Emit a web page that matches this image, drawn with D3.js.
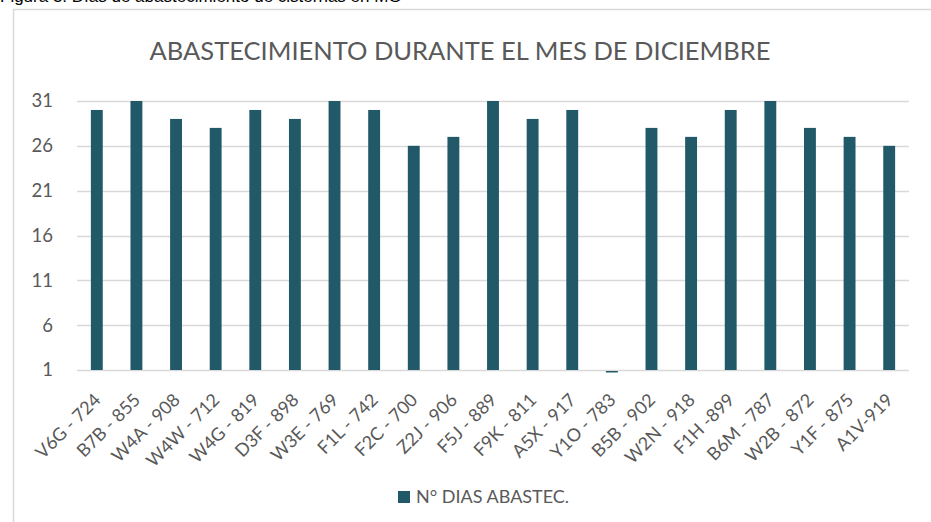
<!DOCTYPE html>
<html>
<head>
<meta charset="utf-8">
<script src="https://cdn.jsdelivr.net/npm/d3@7"></script>
<style>
  body { margin: 0; background: #fff; }
  text { font-family: Lato, "Open Sans", sans-serif; }
</style>
</head>
<body>
<div id="chart"></div>
<script>
// data
var categories = ["V6G - 724", "B7B - 855", "W4A - 908", "W4W - 712", "W4G - 819", "D3F - 898",
  "W3E - 769", "F1L - 742", "F2C - 700", "Z2J - 906", "F5J - 889", "F9K - 811", "A5X - 917",
  "Y1O - 783", "B5B - 902", "W2N - 918", "F1H -899", "B6M - 787", "W2B - 872", "Y1F - 875", "A1V-919"];
var dias = [30, 31, 29, 28, 30, 29, 31, 30, 26, 27, 31, 29, 30, 0, 28, 27, 30, 31, 28, 27, 26];
var yTicks = [1, 6, 11, 16, 21, 26, 31];
var seriesName = "N° DIAS ABASTEC.";
var chartTitle = "ABASTECIMIENTO DURANTE EL MES DE DICIEMBRE";

var width = 931, height = 522;
var margin = {top: 101, right: 22, bottom: 152, left: 77};
var barColor = "#215968";
var textColor = "#595959";

var svg = d3.select("#chart").append("svg")
    .attr("width", width)
    .attr("height", height);

// caption cut off at the top of the page
svg.append("text")
    .attr("x", 0).attr("y", 2)
    .style("font-family", "'Liberation Sans', Arial, sans-serif")
    .style("font-size", "17px")
    .attr("fill", "#000")
    .text("Figura 3: Días de abastecimiento de cisternas en MG");

// chart area frame
svg.append("rect")
    .attr("x", 13.5).attr("y", 9.5)
    .attr("width", width).attr("height", height)
    .attr("fill", "none")
    .attr("stroke", "#d9d9d9")
    .attr("stroke-width", 1.5);

var g = svg.append("g")
    .attr("transform", "translate(" + margin.left + "," + margin.top + ")");

var innerW = width - margin.left - margin.right,
    innerH = height - margin.top - margin.bottom;

var x = d3.scaleBand()
    .domain(categories)
    .range([0, innerW])
    .paddingInner(0.7)
    .paddingOuter(0.35);

var y = d3.scaleLinear()
    .domain([1, 31])
    .range([innerH, 0]);

// gridlines
g.selectAll(".grid")
    .data(yTicks)
    .enter().append("line")
    .attr("x1", 0).attr("x2", innerW)
    .attr("y1", d => Math.round(y(d)) + 0.5)
    .attr("y2", d => Math.round(y(d)) + 0.5)
    .attr("stroke", "#d9d9d9")
    .attr("stroke-width", 1.5);

// y axis labels
var yAxis = d3.axisLeft(y).tickValues(yTicks).tickSize(0).tickPadding(24);
g.append("g").call(yAxis)
    .call(s => s.select(".domain").remove())
    .selectAll("text")
    .attr("fill", textColor)
    .style("font-size", "18.5px");

// bars (a value below the axis minimum is drawn as a thin stub below the baseline)
g.selectAll(".bar")
    .data(dias)
    .enter().append("rect")
    .attr("x", (d, i) => x(categories[i]))
    .attr("width", x.bandwidth())
    .attr("y", d => d >= 1 ? y(d) : y(1) + 1)
    .attr("height", d => d >= 1 ? y(1) - y(d) : 1.5)
    .attr("fill", barColor);

// x axis labels
var xAxis = d3.axisBottom(x).tickSize(0).tickPadding(0);
g.append("g")
    .attr("transform", "translate(0," + innerH + ")")
    .call(xAxis)
    .call(s => s.select(".domain").remove())
    .selectAll("text")
    .attr("fill", textColor)
    .style("font-size", "18px")
    .attr("text-anchor", "end")
    .attr("y", 0)
    .attr("dy", "0")
    .attr("transform", "translate(5,31) rotate(-45)");

// title
svg.append("text")
    .attr("x", 460).attr("y", 60)
    .attr("text-anchor", "middle")
    .attr("fill", textColor)
    .style("font-size", "25.5px")
    .text(chartTitle);

// legend
var legend = svg.append("g").attr("transform", "translate(398,491)");
legend.append("rect")
    .attr("width", 12).attr("height", 12)
    .attr("fill", barColor);
legend.append("text")
    .attr("x", 18).attr("y", 12)
    .attr("fill", textColor)
    .style("font-size", "18px")
    .text(seriesName);
</script>
</body>
</html>
